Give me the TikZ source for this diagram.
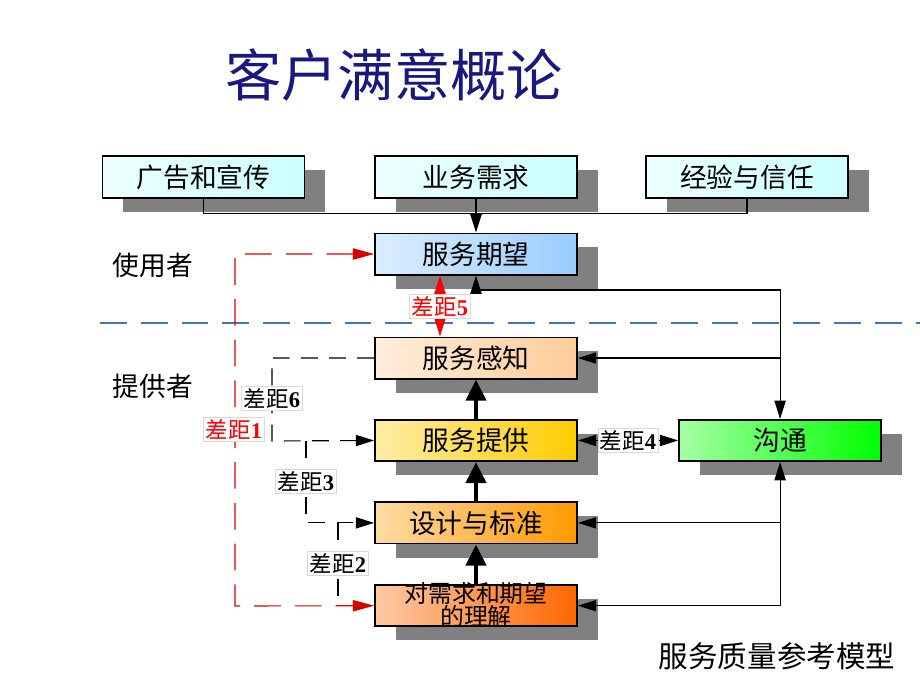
\documentclass[tikz,border=0pt]{standalone}
\usepackage{fontspec}
\setmainfont{Liberation Serif}
\newfontfamily\cjk{Noto Sans CJK SC}
\usetikzlibrary{arrows.meta,positioning,shadows}

\definecolor{titleblue}{RGB}{24,24,128}
\definecolor{linkblue}{RGB}{68,114,196}
\definecolor{cyanbox}{HTML}{CCFFFF}
\definecolor{bluebox}{HTML}{99CCFF}
\definecolor{peachbox}{HTML}{FFCC99}
\definecolor{goldbox}{HTML}{FFCC00}
\definecolor{orangebox}{HTML}{FF9900}
\definecolor{darkorangebox}{HTML}{FF6600}
\definecolor{greenbox}{HTML}{00FF00}

\newcommand\gapno[1]{差距{\rmfamily\bfseries #1}}

\tikzset{
  box/.style={draw=black, line width=1.3pt, minimum width=5.05cm, minimum height=1.03cm,
    inner sep=0pt, font=\cjk\fontsize{19}{19}\selectfont,
    left color=#1!35!white, middle color=#1, right color=#1,
    general shadow={fill=gray, shadow xshift=0.52cm, shadow yshift=-0.35cm}},
  conn/.style={line width=0.8pt},
  thickarrow/.style={line width=3.5pt, -{Triangle[length=15pt,width=14pt]}},
  gapdash/.style={line width=0.8pt, black, dash pattern=on 12pt off 8pt},
  reddash/.style={line width=0.8pt, red!85!black, dash pattern=on 19pt off 10pt},
  gaplab/.style={fill=white, draw=gray!30, line width=0.4pt, inner sep=1.5pt,
    font=\cjk\fontsize{16}{16}\selectfont},
  side/.style={anchor=west, font=\cjk\fontsize{19}{19}\selectfont}
}

\begin{document}
\begin{tikzpicture}[x=0.025cm, y=-0.025cm, node distance=2.06cm,
    >={Triangle[length=13pt,width=8pt]}]
  \useasboundingbox (0,0) rectangle (920,690);

  \node[font=\cjk\fontsize{40}{40}\selectfont, text=titleblue] (title) at (394,75) {客户满意概论};

  % top row
  \node[box=cyanbox] (guanggao) at (203.5,177) {广告和宣传};
  \node[box=cyanbox] (xuqiu) at (476,177) {业务需求};
  \node[box=cyanbox] (jingyan) at (747,177) {经验与信任};

  % main column
  \node[box=bluebox] (qiwang) [below of=xuqiu, node distance=1.925cm] {服务期望};
  \node[box=peachbox] (ganzhi) [below of=qiwang, node distance=2.6cm] {服务感知};
  \node[box=goldbox] (tigong) [below of=ganzhi] {服务提供};
  \node[box=orangebox] (sheji) [below of=tigong] {设计与标准};
  \node[box=darkorangebox, font=\cjk\fontsize{17}{17}\selectfont] (lijie) [below of=sheji, node distance=2.07cm]
    {\smash{\raisebox{-5.5pt}{\begin{tabular}{@{}c@{}}对需求和期望\\[-3pt]的理解\end{tabular}}}};
  \node[box=greenbox] (goutong) [right of=tigong, node distance=7.6cm] {沟通};

  % sides
  \node[side] (user) at (108,265) {使用者};
  \node[side] (provider) at (108,386) {提供者};
  \coordinate (lineL) at (100,323);
  \coordinate (lineR) at (920,323);
  \draw[linkblue, line width=0.8pt, dash pattern=on 19pt off 10pt] (lineL) -- (lineR);

  % inputs
  \draw[line width=1.1pt] (guanggao.south) -- ++(0,15) -| (jingyan.south);
  \draw[line width=1.1pt, ->] (xuqiu.south) -- (qiwang.north);

  % communication
  \coordinate (cr) at (778,290);
  \draw[conn, <->] (qiwang.south) -- (qiwang.south |- cr) -| (goutong.north);
  \draw[conn, ->] (goutong.north |- ganzhi.east) -- (ganzhi.east);
  \draw[conn, <->] (lijie.east) -| (goutong.south);
  \draw[conn, ->] (goutong.south |- sheji.east) -- (sheji.east);
  \draw[conn, <->] (tigong.east) -- (goutong.west) node[midway, gaplab] (gap4) {\gapno4};

  % delivery chain
  \draw[thickarrow] (lijie.north) -- (sheji.south);
  \draw[thickarrow] (sheji.north) -- (tigong.south);
  \draw[thickarrow] (tigong.north) -- (ganzhi.south);

  % gaps
  \draw[red, line width=0.8pt, <->] ([xshift=-0.9cm]qiwang.south) -- ([xshift=-0.9cm]ganzhi.north)
    node[midway, gaplab, text=red] (gap5) {\gapno5};
  \draw[reddash, <->, >={Triangle[length=15pt,width=8pt]}] (qiwang.west) -| (235,606) -- (lijie.west);
  \coordinate (g3) at (306,441);
  \coordinate (g2a) at (338,523);
  \coordinate (g2b) at (338,606);
  \draw[gapdash, ->] (ganzhi.west) -| (272,441) -- (tigong.west);
  \draw[gapdash, ->] (g3) |- (sheji.west);
  \draw[gapdash] (g2a) -- (g2b);
  \node[gaplab] (gap6) at (272,398) {\gapno6};
  \node[gaplab, text=red] (gap1) at (234,429) {\gapno1};
  \node[gaplab] (gap3) at (306,481) {\gapno3};
  \node[gaplab] (gap2) at (338,563) {\gapno2};

  \node[font=\cjk\fontsize{21}{21}\selectfont] (caption) at (777,656) {服务质量参考模型};
\end{tikzpicture}
\end{document}
